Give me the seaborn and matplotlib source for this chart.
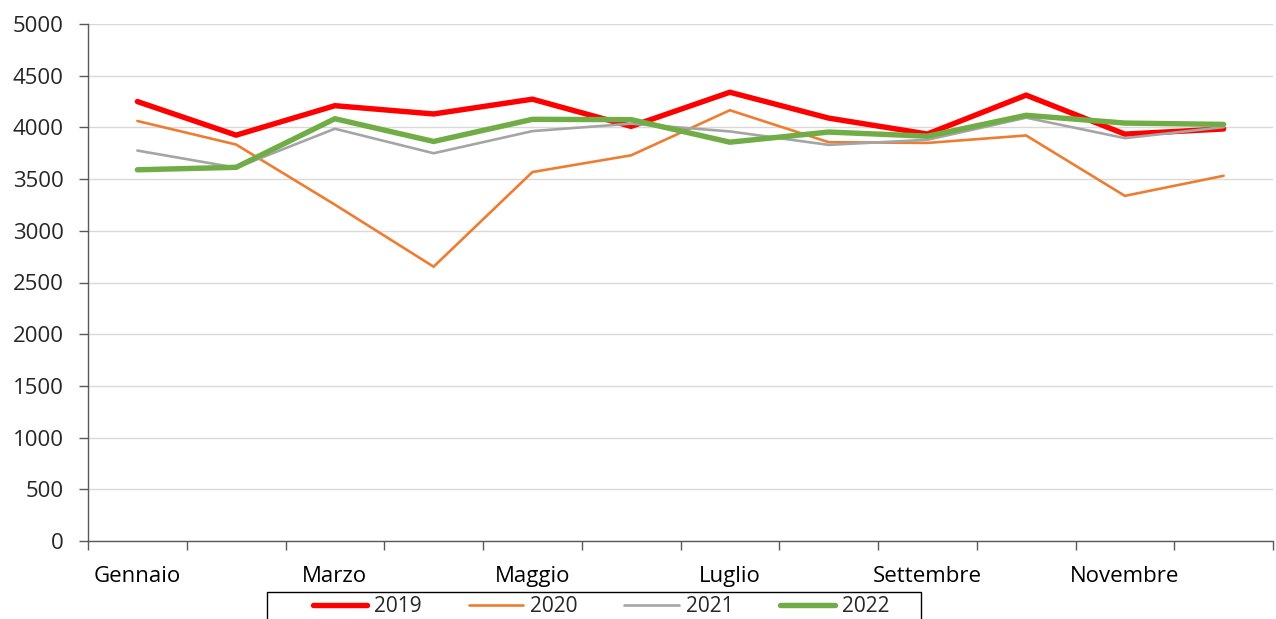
import pandas as pd
import matplotlib
matplotlib.use("Agg")
import matplotlib.pyplot as plt
import seaborn as sns
from matplotlib.patches import Rectangle
from matplotlib.ticker import FixedLocator, MultipleLocator

# --- data ---
MONTHS = ["Gennaio", "Febbraio", "Marzo", "Aprile", "Maggio", "Giugno",
          "Luglio", "Agosto", "Settembre", "Ottobre", "Novembre", "Dicembre"]
VAL_2019 = [4250, 3925, 4210, 4130, 4273, 4010, 4340, 4090, 3936, 4312, 3935, 3985]
VAL_2020 = [4062, 3834, 3253, 2653, 3568, 3730, 4166, 3857, 3850, 3922, 3338, 3532]
VAL_2021 = [3776, 3610, 3987, 3750, 3964, 4036, 3961, 3831, 3880, 4094, 3896, 4003]
VAL_2022 = [3590, 3614, 4084, 3864, 4078, 4075, 3857, 3955, 3915, 4117, 4042, 4029]
YEARS = ["2019", "2020", "2021", "2022"]
COLORS = {"2019": "#ff0000", "2020": "#ed7d31", "2021": "#a5a5a5", "2022": "#70ad47"}
WIDTHS = {"2019": 3.9, "2020": 1.9, "2021": 1.9, "2022": 3.9}

frames = []
for year, vals in zip(YEARS, [VAL_2019, VAL_2020, VAL_2021, VAL_2022]):
    frames.append(pd.DataFrame({"mese": range(len(MONTHS)), "valore": vals, "anno": year}))
df = pd.concat(frames, ignore_index=True)

sns.set_style("white")
plt.rcParams["font.family"] = ["Open Sans", "DejaVu Sans"]

fig = plt.figure(figsize=(12.76, 6.19), dpi=100)
ax = fig.add_axes([88 / 1276, 1 - 541 / 619, (1273 - 88) / 1276, (541 - 24) / 619])

for year in YEARS:
    sns.lineplot(data=df[df["anno"] == year], x="mese", y="valore", color=COLORS[year],
                 linewidth=WIDTHS[year], label=year, ax=ax, legend=False,
                 solid_joinstyle="miter")

ax.set_xlim(-0.5, len(MONTHS) - 0.5)
ax.set_ylim(0, 5000)
ax.yaxis.set_major_locator(MultipleLocator(500))
ax.grid(axis="y", color="#d9d9d9", linewidth=1.0)
ax.set_axisbelow(True)

# labels on every other month, tick marks on category boundaries
ax.set_xticks(range(0, len(MONTHS), 2))
ax.set_xticklabels(MONTHS[::2])
ax.xaxis.set_minor_locator(FixedLocator([i - 0.5 for i in range(len(MONTHS) + 1)]))
ax.tick_params(axis="x", which="major", length=0, pad=18, labelsize=16, colors="#000000")
ax.tick_params(axis="x", which="minor", length=6.5, width=1, color="#595959", direction="out")
ax.tick_params(axis="y", which="major", length=6.5, width=1, color="#595959", direction="out",
               labelsize=16, pad=11)
ax.xaxis.set_ticks_position("bottom")
ax.yaxis.set_ticks_position("left")

for side in ["top", "right"]:
    ax.spines[side].set_visible(False)
for side in ["left", "bottom"]:
    ax.spines[side].set_color("#595959")
    ax.spines[side].set_linewidth(1.0)

ax.set_xlabel("")
ax.set_ylabel("")

# legend box, cut by the bottom edge of the figure as in the original
fig.patches.append(Rectangle((267 / 1276, -0.05), (921 - 267) / 1276, 0.05 + 1 - 592 / 619,
                             transform=fig.transFigure, facecolor="white",
                             edgecolor="#000000", linewidth=1.0))
handles, labels = ax.get_legend_handles_labels()
leg = fig.legend(handles, labels, loc="center", bbox_to_anchor=(601 / 1276, 1 - 607 / 619),
                 ncol=4, frameon=False, fontsize=15, handlelength=2.6,
                 columnspacing=2.25, handletextpad=0.35, borderaxespad=0, borderpad=0)

fig.savefig("out.png", dpi=100)
